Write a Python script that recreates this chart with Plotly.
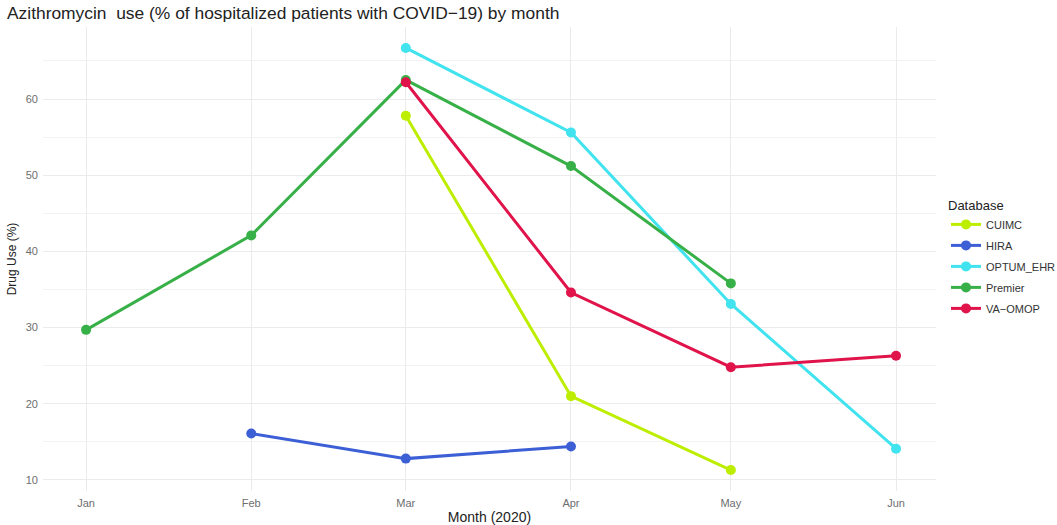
import plotly.graph_objects as go

# Monthly azithromycin use by database (first of each month, 2020)
months = ["2020-01-01", "2020-02-01", "2020-03-01", "2020-04-01", "2020-05-01", "2020-06-01"]
month_labels = ["Jan", "Feb", "Mar", "Apr", "May", "Jun"]

cuimc_months = ["2020-03-01", "2020-04-01", "2020-05-01"]
cuimc_use = [57.8, 21.0, 11.3]

hira_months = ["2020-02-01", "2020-03-01", "2020-04-01"]
hira_use = [16.1, 12.8, 14.4]

optum_months = ["2020-03-01", "2020-04-01", "2020-05-01", "2020-06-01"]
optum_use = [66.7, 55.6, 33.1, 14.1]

premier_months = ["2020-01-01", "2020-02-01", "2020-03-01", "2020-04-01", "2020-05-01"]
premier_use = [29.7, 42.1, 62.5, 51.2, 35.8]

va_months = ["2020-03-01", "2020-04-01", "2020-05-01", "2020-06-01"]
va_use = [62.2, 34.6, 24.8, 26.3]

series = [
    ("CUIMC", cuimc_months, cuimc_use, "#BDEE00"),
    ("HIRA", hira_months, hira_use, "#3D5FD6"),
    ("OPTUM_EHR", optum_months, optum_use, "#40E3EE"),
    ("Premier", premier_months, premier_use, "#38B048"),
    ("VA\u2212OMOP", va_months, va_use, "#E0134A"),
]

fig = go.Figure()
for name, xs, ys, color in series:
    fig.add_trace(go.Scatter(
        x=xs, y=ys, name=name, mode="lines+markers",
        legendgroup=name,
        line=dict(color=color, width=3),
        marker=dict(color=color, size=10),
    ))

grid = "#EBEBEB"
base_font = "Liberation Sans, Arial, sans-serif"
tick_font = dict(family=base_font, size=11, color="#6E6E6E")

fig.update_layout(
    width=1057, height=525,
    margin=dict(l=43, r=121, t=27, b=34),
    paper_bgcolor="white", plot_bgcolor="white",
    font=dict(family=base_font, color="#222"),
    title=dict(
        text="Azithromycin  use (% of hospitalized patients with COVID\u221219) by month",
        x=7 / 1057, xref="container", xanchor="left",
        y=1 - 13 / 525, yref="container", yanchor="middle",
        font=dict(size=17.4, color="#222"),
    ),
    legend=dict(
        title=dict(text="Database", font=dict(size=13, color="#222")),
        xref="container", yref="container",
        x=946 / 1057, xanchor="left",
        y=1 - 193 / 525, yanchor="top",
        font=dict(size=11, color="#333"),
        tracegroupgap=2,
        bgcolor="rgba(0,0,0,0)",
    ),
    showlegend=True,
)

fig.update_xaxes(
    type="date",
    range=["2019-12-23 22:00", "2020-06-08 12:00"],
    tickvals=months, ticktext=month_labels,
    tickfont=tick_font,
    showgrid=True, gridcolor=grid, gridwidth=1,
    zeroline=False, showline=False, ticks="",
    automargin=False,
    ticklabelstandoff=4,
    title=dict(text="Month (2020)", font=dict(size=14, color="#222"), standoff=4),
)

fig.update_yaxes(
    range=[8.55, 69.45],
    tick0=10, dtick=10,
    tickfont=tick_font,
    showgrid=True, gridcolor=grid, gridwidth=1,
    minor=dict(dtick=5, tick0=5, showgrid=True, gridcolor="#F2F2F2", gridwidth=1),
    zeroline=False, showline=False, ticks="",
    automargin=False,
    ticklabelstandoff=4,
    title=dict(text="Drug Use (%)", font=dict(size=12, color="#222"), standoff=6),
)

fig.write_html("out.html")
